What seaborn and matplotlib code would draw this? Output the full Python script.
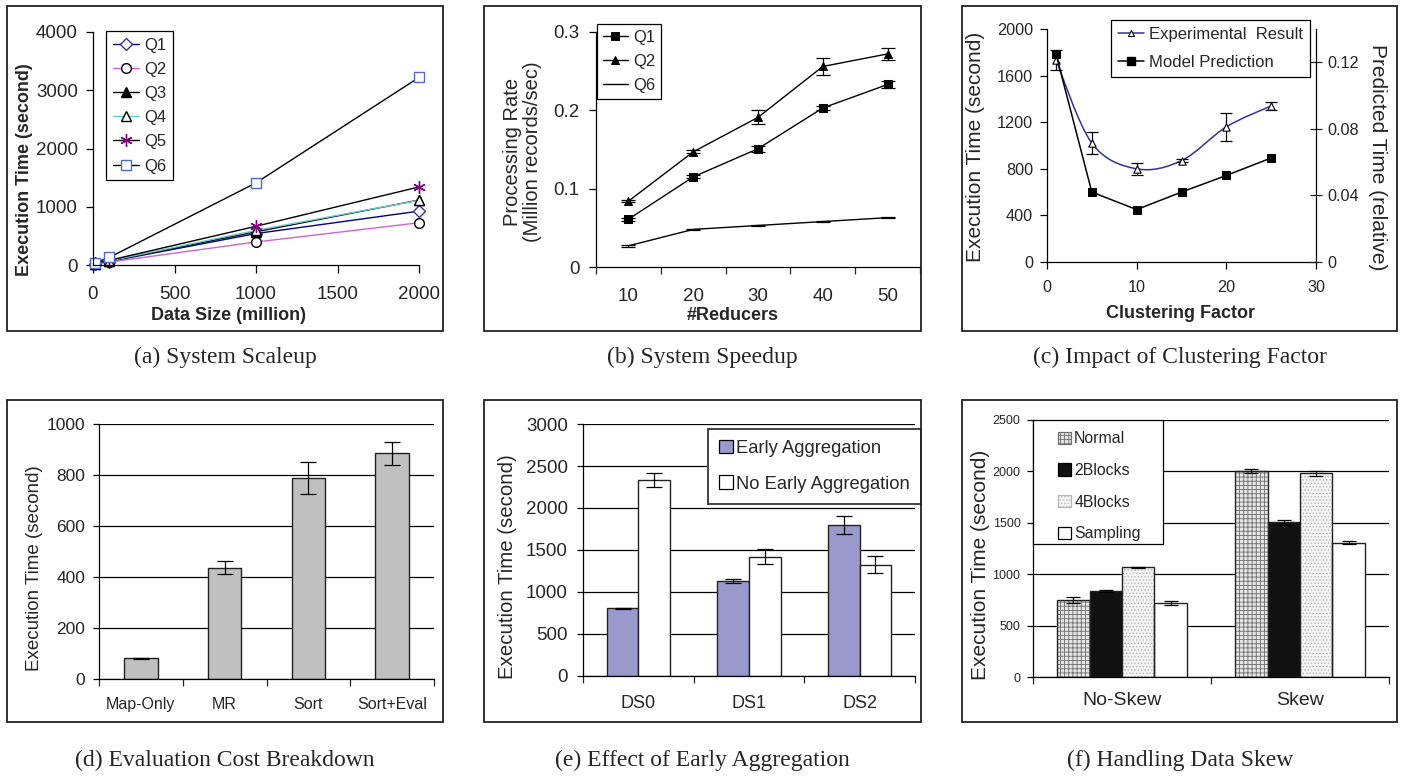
import numpy as np
import pandas as pd
import matplotlib
matplotlib.use('Agg')
import matplotlib.pyplot as plt
import seaborn as sns
from matplotlib.patches import Rectangle, Patch, PathPatch
from matplotlib.lines import Line2D
from matplotlib.path import Path

W, H = 1410, 779

# (a) System Scaleup
scaleup_sizes = [10, 100, 1000, 2000]
scaleup_q1 = [20, 60, 540, 925]
scaleup_q2 = [20, 50, 395, 725]
scaleup_q3 = [25, 70, 570, 1115]
scaleup_q4 = [25, 70, 595, 1110]
scaleup_q5 = [30, 80, 665, 1340]
scaleup_q6 = [35, 130, 1410, 3220]

# (b) System Speedup
reducers = ['10', '20', '30', '40', '50']
speedup_q1 = [0.061, 0.115, 0.151, 0.203, 0.233]
speedup_q1_err = [0.002, 0.002, 0.004, 0.002, 0.005]
speedup_q2 = [0.084, 0.147, 0.191, 0.256, 0.272]
speedup_q2_err = [0.001, 0.002, 0.009, 0.011, 0.008]
speedup_q6 = [0.027, 0.048, 0.053, 0.058, 0.063]
speedup_q6_err = [0.001, 0.001, 0.001, 0.001, 0.001]

# (c) Impact of Clustering Factor
cluster_factor = [1, 5, 10, 15, 20, 25]
exp_time = [1735, 1020, 800, 870, 1160, 1340]
exp_err = [85, 92, 53, 15, 119, 36]
model_pred = [0.125, 0.042, 0.0315, 0.042, 0.052, 0.0625]

# (d) Evaluation Cost Breakdown
stages = ['Map-Only', 'MR', 'Sort', 'Sort+Eval']
stage_time = [81, 437, 788, 885]
stage_err = [3, 25, 62, 46]

# (e) Effect of Early Aggregation
datasets = ['DS0', 'DS1', 'DS2']
agg_methods = ['Early Aggregation', 'No Early Aggregation']
early_agg = [805, 1130, 1800]
early_agg_err = [5, 28, 107]
no_early_agg = [2335, 1420, 1325]
no_early_agg_err = [84, 90, 98]

# (f) Handling Data Skew
skew_cases = ['No-Skew', 'Skew']
skew_methods = ['Normal', '2Blocks', '4Blocks', 'Sampling']
normal_time = [748, 2005]
normal_err = [29, 22]
blocks2_time = [835, 1506]
blocks2_err = [10, 26]
blocks4_time = [1066, 1980]
blocks4_err = [8, 20]
sampling_time = [722, 1308]
sampling_err = [22, 12]

sns.set_style('white')
plt.rcParams['font.family'] = ['Liberation Sans', 'DejaVu Sans']
plt.rcParams['axes.edgecolor'] = 'black'
plt.rcParams['axes.linewidth'] = 0.9
plt.rcParams['hatch.linewidth'] = 0.6

fig = plt.figure(figsize=(W / 100, H / 100), dpi=100)


def px_axes(left, top, right, bottom):
    return fig.add_axes([left / W, 1 - bottom / H, (right - left) / W, (bottom - top) / H])


def px_text(x, y, s, **kw):
    return fig.text(x / W, 1 - y / H, s, **kw)


def px_rect(left, top, right, bottom, **kw):
    return Rectangle((left / W, 1 - bottom / H), (right - left) / W, (bottom - top) / H,
                     transform=fig.transFigure, **kw)


def frame(left, top, right, bottom):
    fig.add_artist(px_rect(left, top, right, bottom, fill=False, edgecolor='#222222', linewidth=1.3))


def base_style(ax):
    sns.despine(ax=ax)
    ax.set_xlabel('')
    ax.set_ylabel('')
    ax.tick_params(axis='both', direction='out', color='black', width=0.9,
                   bottom=True, left=True)


def category_axis(ax, labels, size, pad):
    n = len(labels)
    ax.set_xticks(range(n))
    ax.set_xticklabels(labels)
    ax.set_xticks(np.arange(-0.5, n), minor=True)
    ax.tick_params(axis='x', which='major', length=0, pad=pad, labelsize=size)
    ax.tick_params(axis='x', which='minor', length=5, width=0.9, direction='out', bottom=True)
    ax.set_xlim(-0.5, n - 0.5)


def bar_centers(container):
    return [p.get_x() + p.get_width() / 2 for p in container]


def add_errbars(ax, xs, ys, errs, capsize=4):
    ax.errorbar(xs, ys, yerr=errs, fmt='none', ecolor='black', elinewidth=0.9,
                capsize=capsize, capthick=0.9, zorder=5)


def legend_box(leg):
    leg.get_frame().set_edgecolor('black')
    leg.get_frame().set_linewidth(0.9)


# frames around every subfigure
for l, r in [(7, 443), (484, 921), (962, 1397)]:
    frame(l, 6, r, 331)
    frame(l, 400, r, 722)

# ---------- (a) System Scaleup ----------
ax = px_axes(93, 32, 419, 265)
series_a = [
    ('Q1', scaleup_q1, '#000080', 'D', 'white', '#333399', 6),
    ('Q2', scaleup_q2, '#cc66cc', 'o', 'white', 'black', 7),
    ('Q3', scaleup_q3, 'black', '^', 'black', 'black', 7),
    ('Q4', scaleup_q4, '#66cccc', '^', 'white', 'black', 7),
    ('Q5', scaleup_q5, 'black', (6, 2, 0), '#800080', '#800080', 9),
    ('Q6', scaleup_q6, 'black', 's', 'white', '#5566cc', 7),
]
for name, ys, lc, mk, mfc, mec, ms in series_a:
    sns.lineplot(x=scaleup_sizes, y=ys, ax=ax, color=lc, marker=mk, markerfacecolor=mfc,
                 markeredgecolor=mec, markeredgewidth=1, markersize=ms, linewidth=1, label=name)
base_style(ax)
ax.set_xlim(0, 2000)
ax.set_ylim(0, 4000)
ax.set_xticks([0, 500, 1000, 1500, 2000])
ax.set_yticks([0, 1000, 2000, 3000, 4000])
ax.tick_params(axis='x', length=6, pad=9, labelsize=13.5)
ax.tick_params(axis='y', length=5, pad=6, labelsize=13.5)
for ln in ax.get_lines():
    ln.set_clip_on(False)
leg = ax.legend(loc='upper left', bbox_to_anchor=(106 / W, 1 - 31 / H), bbox_transform=fig.transFigure,
                borderaxespad=0, fontsize=12, fancybox=False, framealpha=1, labelspacing=0.55,
                handlelength=1.6, handletextpad=0.3, borderpad=0.4)
legend_box(leg)
px_text(33, 170, 'Execution Time (second)', rotation=90, ha='right', va='center',
        fontsize=13, fontweight='bold')
px_text(228, 307, 'Data Size (million)', ha='center', va='top', fontsize=13, fontweight='bold')

# ---------- (b) System Speedup ----------
ax = px_axes(596, 32, 920, 267)
pos_b = list(range(len(reducers)))
speed_sets = [
    ('Q1', speedup_q1, speedup_q1_err, 's', 6),
    ('Q2', speedup_q2, speedup_q2_err, '^', 6),
    ('Q6', speedup_q6, speedup_q6_err, None, 0),
]
for name, ys, errs, mk, ms in speed_sets:
    sns.lineplot(x=pos_b, y=ys, ax=ax, color='black', marker=mk, markersize=ms,
                 markeredgecolor='black', linewidth=1, label=name)
    add_errbars(ax, pos_b, ys, errs, capsize=5)
base_style(ax)
ax.set_ylim(0, 0.3)
ax.set_yticks([0, 0.1, 0.2, 0.3])
ax.set_yticklabels(['0', '0.1', '0.2', '0.3'])
category_axis(ax, reducers, 13.5, 15)
ax.tick_params(axis='y', length=5, pad=7, labelsize=13.5)
leg = ax.legend(loc='upper left', bbox_to_anchor=(597 / W, 1 - 24 / H), bbox_transform=fig.transFigure,
                borderaxespad=0, fontsize=12, fancybox=False, framealpha=1, labelspacing=0.55,
                handlelength=1.5, handletextpad=0.3, borderpad=0.35)
legend_box(leg)
px_text(542, 152, 'Processing Rate\n(Million records/sec)', rotation=90, ha='right', va='center',
        fontsize=14.5, multialignment='center', linespacing=1.1)
px_text(733, 307, '#Reducers', ha='center', va='top', fontsize=13, fontweight='bold')

# ---------- (c) Impact of Clustering Factor ----------
ax = px_axes(1047, 29, 1316, 262)
ax2 = ax.twinx()
# Excel-style smoothed line through the measured points (Catmull-Rom as cubic Bezier)
pts = np.column_stack([cluster_factor, exp_time]).astype(float)
ext = np.vstack([pts[0], pts, pts[-1]])
verts = [tuple(pts[0])]
codes = [Path.MOVETO]
for i in range(len(pts) - 1):
    p0, p1, p2, p3 = ext[i], ext[i + 1], ext[i + 2], ext[i + 3]
    verts += [tuple(p1 + (p2 - p0) / 6), tuple(p2 - (p3 - p1) / 6), tuple(p2)]
    codes += [Path.CURVE4] * 3
ax.add_patch(PathPatch(Path(verts, codes), fill=False, edgecolor='#333399', linewidth=1.1, zorder=3))
add_errbars(ax, cluster_factor, exp_time, exp_err, capsize=4)
sns.scatterplot(x=cluster_factor, y=exp_time, ax=ax, marker='^', s=28, color='white',
                edgecolor='black', linewidth=0.8, zorder=6)
sns.lineplot(x=cluster_factor, y=model_pred, ax=ax2, color='black', marker='s', markersize=6,
             markeredgecolor='black', linewidth=1.1)
base_style(ax)
ax.set_xlim(0, 30)
ax.set_ylim(0, 2000)
ax.set_xticks([0, 10, 20, 30])
ax.set_yticks([0, 400, 800, 1200, 1600, 2000])
ax.tick_params(axis='x', length=5, pad=8, labelsize=11.7)
ax.tick_params(axis='y', length=5, pad=5, labelsize=11.7)
ax2.set_ylim(0, 0.14)
ax2.set_yticks([0, 0.04, 0.08, 0.12])
ax2.set_yticklabels(['0', '0.04', '0.08', '0.12'])
ax2.set_ylabel('')
for side in ['top', 'left', 'bottom']:
    ax2.spines[side].set_visible(False)
ax2.spines['right'].set_linewidth(0.9)
ax2.tick_params(axis='y', direction='inout', length=8, width=0.9, pad=4, labelsize=11.7, right=True)
handles_c = [
    Line2D([], [], color='#333399', lw=1.1, marker='^', markersize=5, markerfacecolor='white',
           markeredgecolor='black', markeredgewidth=0.8),
    Line2D([], [], color='black', lw=1.1, marker='s', markersize=6, markerfacecolor='black'),
]
leg = ax2.legend(handles_c, ['Experimental  Result', 'Model Prediction'], loc='upper left',
                 bbox_to_anchor=(1111 / W, 1 - 20 / H), bbox_transform=fig.transFigure,
                 borderaxespad=0, fontsize=12, fancybox=False, framealpha=1, labelspacing=0.8,
                 handlelength=1.6, handletextpad=0.3, borderpad=0.4)
legend_box(leg)
px_text(985, 147, 'Execution Time (second)', rotation=90, ha='right', va='center', fontsize=15)
px_text(1368, 157, 'Predicted Time (relative)', rotation=270, ha='left', va='center', fontsize=15)
px_text(1181, 305, 'Clustering Factor', ha='center', va='top', fontsize=13, fontweight='bold')

# ---------- (d) Evaluation Cost Breakdown ----------
ax = px_axes(99, 424, 434, 679)
sns.barplot(x=stages, y=stage_time, ax=ax, color='#c0c0c0', edgecolor='#222222', linewidth=1,
            width=0.4, errorbar=None, saturation=1)
add_errbars(ax, bar_centers(ax.containers[0]), stage_time, stage_err, capsize=6)
base_style(ax)
ax.set_ylim(0, 1000)
ax.set_yticks([0, 200, 400, 600, 800, 1000])
ax.yaxis.grid(True, color='black', linewidth=0.9)
ax.set_axisbelow(True)
category_axis(ax, stages, 11.5, 13)
ax.tick_params(axis='y', length=4, pad=6, labelsize=12.5)
px_text(43, 568, 'Execution Time (second)', rotation=90, ha='right', va='center', fontsize=13.5)

# ---------- (e) Effect of Early Aggregation ----------
ax = px_axes(583, 424, 915, 676)
df_e = pd.DataFrame({
    'dataset': datasets * 2,
    'method': [agg_methods[0]] * len(datasets) + [agg_methods[1]] * len(datasets),
    'time': early_agg + no_early_agg,
})
pal_e = {'Early Aggregation': '#9999cc', 'No Early Aggregation': 'white'}
sns.barplot(data=df_e, x='dataset', y='time', hue='method', hue_order=agg_methods, palette=pal_e,
            ax=ax, width=0.57, edgecolor='#222222', linewidth=1, errorbar=None, saturation=1,
            legend=False)
bars_e = list(ax.containers)
add_errbars(ax, bar_centers(bars_e[0]), early_agg, early_agg_err, capsize=6)
add_errbars(ax, bar_centers(bars_e[1]), no_early_agg, no_early_agg_err, capsize=6)
base_style(ax)
ax.set_ylim(0, 3000)
ax.set_yticks([0, 500, 1000, 1500, 2000, 2500, 3000])
ax.yaxis.grid(True, color='black', linewidth=0.9)
ax.set_axisbelow(True)
category_axis(ax, datasets, 13, 14)
ax.tick_params(axis='y', length=4, pad=7, labelsize=13.5)
handles_e = [Patch(facecolor=pal_e[m], edgecolor='black', linewidth=0.9) for m in agg_methods]
leg = ax.legend(handles_e, agg_methods, loc='upper left', bbox_to_anchor=(708 / W, 1 - 429 / H),
                bbox_transform=fig.transFigure, borderaxespad=0, fontsize=13.2, fancybox=False,
                framealpha=1, labelspacing=1.0, handlelength=0.75, handleheight=0.75,
                handletextpad=0.2, borderpad=0.6)
legend_box(leg)
leg.get_frame().set_edgecolor('#444444')
leg.get_frame().set_linewidth(1.4)
px_text(517, 567, 'Execution Time (second)', rotation=90, ha='right', va='center', fontsize=14.7)

# ---------- (f) Handling Data Skew ----------
ax = px_axes(1033, 420, 1389, 677)
df_f = pd.DataFrame({
    'case': skew_cases * 4,
    'method': [m for m in skew_methods for _ in skew_cases],
    'time': normal_time + blocks2_time + blocks4_time + sampling_time,
})
pal_f = {'Normal': '#e4e4e4', '2Blocks': '#111111', '4Blocks': '#f4f4f4', 'Sampling': 'white'}
hatch_f = {'Normal': '++++', '2Blocks': None, '4Blocks': '.....', 'Sampling': None}
hatch_col_f = {'Normal': '#707070', '2Blocks': '#222222', '4Blocks': '#b8b8b8', 'Sampling': '#222222'}
sns.barplot(data=df_f, x='case', y='time', hue='method', hue_order=skew_methods, palette=pal_f,
            ax=ax, width=0.73, edgecolor='#222222', linewidth=1, errorbar=None, saturation=1,
            legend=False)
bars_f = list(ax.containers)
for method, cont in zip(skew_methods, bars_f):
    if hatch_f[method]:
        for p in cont:
            p.set_hatch(hatch_f[method])
            p.set_edgecolor(hatch_col_f[method])
            p.set_linewidth(0)
            ax.add_patch(Rectangle((p.get_x(), p.get_y()), p.get_width(), p.get_height(),
                                   fill=False, edgecolor='#222222', linewidth=1, zorder=p.get_zorder()))
for cont, ys, errs in zip(bars_f, [normal_time, blocks2_time, blocks4_time, sampling_time],
                          [normal_err, blocks2_err, blocks4_err, sampling_err]):
    add_errbars(ax, bar_centers(cont), ys, errs, capsize=5)
base_style(ax)
ax.set_ylim(0, 2500)
ax.set_yticks([0, 500, 1000, 1500, 2000, 2500])
ax.yaxis.grid(True, color='black', linewidth=0.9)
ax.set_axisbelow(True)
category_axis(ax, skew_cases, 14, 11)
ax.tick_params(axis='y', length=4, pad=5, labelsize=9)
# legend box drawn separately: Excel leaves a wide left margin inside it
ax.add_patch(px_rect(1033, 420, 1163, 544, facecolor='white', edgecolor='black', linewidth=0.9,
                     zorder=4.5, clip_on=False))
handles_f = [Patch(facecolor=pal_f[m], edgecolor='black' if not hatch_f[m] else hatch_col_f[m],
                   hatch=hatch_f[m], linewidth=0.9) for m in skew_methods]
leg = ax.legend(handles_f, skew_methods, loc='upper left', bbox_to_anchor=(1052 / W, 1 - 425 / H),
                bbox_transform=fig.transFigure, borderaxespad=0, fontsize=11.4, frameon=False,
                labelspacing=1.05, handlelength=0.8, handleheight=0.8,
                handletextpad=0.2, borderpad=0.4)
leg.set_zorder(6)
px_text(990, 565, 'Execution Time (second)', rotation=90, ha='right', va='center', fontsize=15)

# ---------- captions ----------
cap_kw = dict(ha='center', va='center', fontsize=17, family=['Liberation Serif', 'DejaVu Serif'])
px_text(225, 357, '(a) System Scaleup', **cap_kw)
px_text(702, 357, '(b) System Speedup', **cap_kw)
px_text(1180, 357, '(c) Impact of Clustering Factor', **cap_kw)
px_text(225, 760, '(d) Evaluation Cost Breakdown', **cap_kw)
px_text(702, 760, '(e) Effect of Early Aggregation', **cap_kw)
px_text(1180, 760, '(f) Handling Data Skew', **cap_kw)

fig.savefig('out.png', dpi=100)
